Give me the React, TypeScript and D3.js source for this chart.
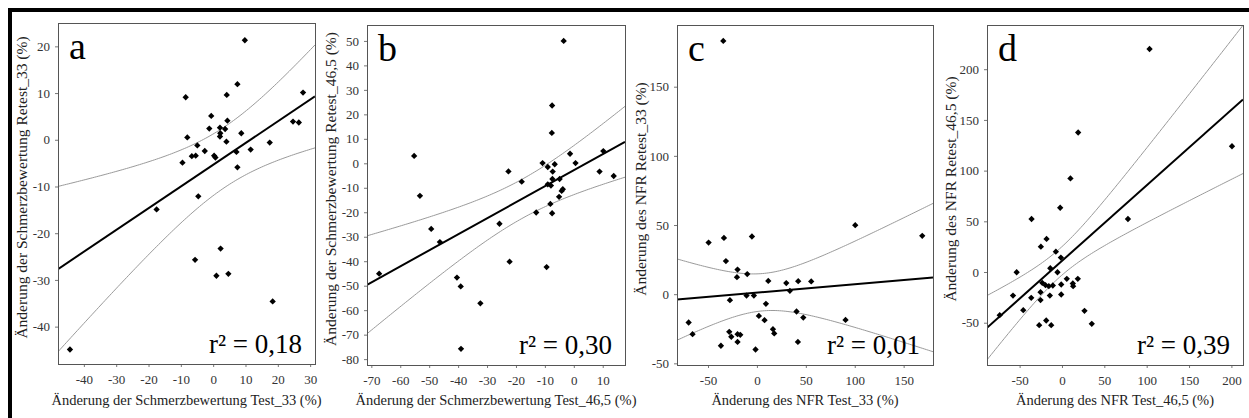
import { useEffect, useRef } from "react"
import * as d3 from "d3"

// panel text
const panelLetters = ["a", "b", "c", "d"]
const r2Labels = ["r² = 0,18", "r² = 0,30", "r² = 0,01", "r² = 0,39"]
const xTitles = [
  "Änderung der Schmerzbewertung Test_33 (%)",
  "Änderung der Schmerzbewertung Test_46,5 (%)",
  "Änderung des NFR Test_33 (%)",
  "Änderung des NFR Test_46,5 (%)",
]
const yTitles = [
  "Änderung der Schmerzbewertung Retest_33 (%)",
  "Änderung der Schmerzbewertung Retest_46,5 (%)",
  "Änderung des NFR Retest_33 (%)",
  "Änderung des NFR Retest_46,5 (%)",
]

// axis ranges and ticks
const xDomains = [[-48, 31.5], [-71.5, 17.7], [-81.7, 180], [-88.5, 213.7]]
const yDomains = [[-48, 25], [-82.4, 56.5], [-51.2, 194.6], [-91.7, 243.6]]
const xTicks = [
  [-40, -30, -20, -10, 0, 10, 20, 30],
  [-70, -60, -50, -40, -30, -20, -10, 0, 10],
  [-50, 0, 50, 100, 150],
  [-50, 0, 50, 100, 150, 200],
]
const yTicks = [
  [-40, -30, -20, -10, 0, 10, 20],
  [-80, -70, -60, -50, -40, -30, -20, -10, 0, 10, 20, 30, 40, 50],
  [-50, 0, 50, 100, 150],
  [-50, 0, 50, 100, 150, 200],
]

// regression line: [intercept, slope]
const fitLines = [[-5.36, 0.465], [-2.8, 0.655], [1.07, 0.0608], [11, 0.745]]
// 95% band: [x at narrowest, half width there, widening factor]
const bands = [[3.6, 6.5, 0.319], [-17.7, 8, 0.3407], [5.9, 13.5, 0.298], [-2.7, 14, 0.3315]]

// a: Schmerzbewertung 33
const schmerz33Test = [9.8, 7.5, 27.8, -8.5, 4.2, -0.6, -1.2, 2.1, 3.7, 4.4, 2.2, 2.1, -8.0, 4.1, 8.7, 24.7, 26.5, 17.5, 11.6, 7.2, -4.9, -2.6, -6.6, -5.4, 0.3, 0.7, -9.5, 7.5, -4.6, -17.5, 2.3, -5.6, 1.0, 4.7, 18.4, -44.3]
const schmerz33Retest = [21.3, 11.9, 10.1, 9.1, 9.6, 5.1, 2.4, 2.6, 2.3, 4.1, 1.4, 0.7, 0.5, -0.4, 1.4, 3.9, 3.7, -0.6, -2.1, -2.6, -1.2, -2.4, -3.5, -3.4, -3.4, -3.8, -4.9, -5.9, -12.1, -14.9, -23.3, -25.7, -29.1, -28.7, -34.6, -44.9]

// b: Schmerzbewertung 46,5
const schmerz465Test = [-3.5, -7.5, -7.6, -55.2, -53.2, -49.3, -46.3, -67.3, -40.4, -39.1, -32.3, -39.0, -22.6, -18.0, -25.7, -22.2, -13.0, -9.4, -10.8, -9.0, -6.6, -7.3, -7.4, -9.0, -7.9, -4.9, -8.1, -7.5, -5.1, -3.8, -4.2, -1.3, 0.6, 8.9, 10.2, 13.8]
const schmerz465Retest = [50, 23.6, 12.4, 3.0, -13.3, -26.8, -32.2, -45.1, -46.7, -50.3, -57.2, -75.8, -3.3, -7.5, -24.7, -40.2, -20.1, -42.4, 0.1, -1.5, -0.4, -3.4, -6.4, -8.6, -9.1, -6.4, -16.6, -20.4, -13.7, -10.6, -11.3, 3.9, 0.1, -3.4, 5.0, -5.2]

// c: NFR 33
const nfr33Test = [-34.4, 100.5, 169, -49.4, -33.7, -5.1, -31.7, -19.8, -20.4, -9.9, 11.6, 30.0, 42.2, 55.5, 33.7, -10.6, -3.1, -27.6, 9.2, 2.0, 7.8, 40.5, 47.4, 90.6, -69.8, -65.8, -28.3, -26.2, -19.8, -17.0, -19.8, 16.4, 17.7, -36.8, -1.4, 41.9]
const nfr33Retest = [183.1, 49.9, 42.2, 37.3, 40.7, 41.7, 23.9, 17.8, 12.3, 14.5, 9.6, 8.0, 9.4, 9.2, 2.4, -1.0, -1.0, -4.3, -7.0, -15.7, -18.8, -12.5, -16.9, -18.6, -20.5, -28.9, -27.2, -30.8, -28.9, -29.4, -34.5, -25.3, -28.4, -37.3, -40.0, -34.5]

// d: NFR 46,5
const nfr465Test = [103.4, 19.1, 200.7, 10.0, -2.1, -35.9, 77.9, -18.2, -24.9, -7.2, -1.3, -53.5, -13.8, -5.3, 5.7, 18.7, -23.3, -19.4, -15.5, -10.8, -0.9, 12.8, 13.2, -25.3, -14.3, -0.9, -57.8, -36.3, -25.3, -45.7, 26.6, -73.5, -26.9, -18.6, -12.7, 35.2]
const nfr465Retest = [219.9, 137.6, 124.0, 92.3, 63.4, 52.3, 52.3, 32.6, 25.0, 20.1, 14.2, -0.2, 3.7, -0.2, -6.7, -6.7, -10.7, -13.0, -14.0, -13.3, -12.3, -11.3, -14.0, -19.9, -23.2, -22.2, -23.2, -25.5, -27.7, -37.6, -38.3, -42.6, -52.4, -47.8, -52.4, -51.1]

const testValues = [schmerz33Test, schmerz465Test, nfr33Test, nfr465Test]
const retestValues = [schmerz33Retest, schmerz465Retest, nfr33Retest, nfr465Retest]

const WIDTH = 1249
const HEIGHT = 418
const FONT = "Liberation Serif, DejaVu Serif, serif"

// plot frames in pixels
const frames = [
  { l: 58, r: 315, t: 23, b: 364 },
  { l: 367, r: 625, t: 25, b: 365 },
  { l: 677, r: 933, t: 25, b: 365 },
  { l: 987, r: 1243, t: 25, b: 365 },
]

const App = () => {
  const svgRef = useRef<SVGSVGElement>(null)

  useEffect(() => {
    const svg = d3.select(svgRef.current)
    svg.selectAll("*").remove()

    // outer box (only top and left edges visible)
    svg.append("line").attr("x1", 8).attr("x2", WIDTH).attr("y1", 10).attr("y2", 10)
      .attr("stroke", "#000").attr("stroke-width", 4)
    svg.append("line").attr("x1", 10).attr("x2", 10).attr("y1", 8).attr("y2", HEIGHT)
      .attr("stroke", "#000").attr("stroke-width", 4)

    frames.forEach((f, i) => {
      const x = d3.scaleLinear().domain(xDomains[i]).range([f.l, f.r])
      const y = d3.scaleLinear().domain(yDomains[i]).range([f.b, f.t])
      const g = svg.append("g").attr("font-family", FONT)

      const clipId = `clip-${i}`
      g.append("clipPath").attr("id", clipId)
        .append("rect")
        .attr("x", f.l).attr("y", f.t)
        .attr("width", f.r - f.l).attr("height", f.b - f.t)

      // x axis
      const xAxis = g.append("g")
        .attr("transform", `translate(0,${f.b})`)
        .call(d3.axisBottom(x).tickValues(xTicks[i]).tickSize(3).tickPadding(8).tickFormat((d) => String(d)))
      xAxis.attr("font-family", FONT).attr("font-size", 13)
      xAxis.select(".domain").remove()
      xAxis.selectAll("line").attr("stroke", "#777")
      xAxis.selectAll("text").attr("fill", "#333")

      // y axis
      const yAxis = g.append("g")
        .attr("transform", `translate(${f.l},0)`)
        .call(d3.axisLeft(y).tickValues(yTicks[i]).tickSize(3).tickPadding(5).tickFormat((d) => String(d)))
      yAxis.attr("font-family", FONT).attr("font-size", 13)
      yAxis.select(".domain").remove()
      yAxis.selectAll("line").attr("stroke", "#777")
      yAxis.selectAll("text").attr("fill", "#333")

      // confidence band
      const [x0, h0, w] = bands[i]
      const [b0, b1] = fitLines[i]
      const xs = d3.range(xDomains[i][0], xDomains[i][1] + 0.5, (xDomains[i][1] - xDomains[i][0]) / 120)
      const half = (v: number) => Math.sqrt(h0 * h0 + w * w * (v - x0) * (v - x0))
      const fit = (v: number) => b0 + b1 * v
      const plotArea = g.append("g").attr("clip-path", `url(#${clipId})`)

      const upper = d3.line<number>().x((v) => x(v)).y((v) => y(fit(v) + half(v)))
      const lower = d3.line<number>().x((v) => x(v)).y((v) => y(fit(v) - half(v)))
      plotArea.append("path").datum(xs).attr("d", upper)
        .attr("fill", "none").attr("stroke", "#9a9a9a").attr("stroke-width", 1)
      plotArea.append("path").datum(xs).attr("d", lower)
        .attr("fill", "none").attr("stroke", "#9a9a9a").attr("stroke-width", 1)

      // regression line
      plotArea.append("line")
        .attr("x1", x(xDomains[i][0])).attr("y1", y(fit(xDomains[i][0])))
        .attr("x2", x(xDomains[i][1])).attr("y2", y(fit(xDomains[i][1])))
        .attr("stroke", "#000").attr("stroke-width", 2)

      // points
      const pts = testValues[i].map((v, k) => [v, retestValues[i][k]])
      const diamond = d3.symbol().type(d3.symbolSquare).size(20)
      plotArea.selectAll(".pt")
        .data(pts)
        .enter()
        .append("path")
        .attr("class", "pt")
        .attr("d", diamond)
        .attr("transform", (d) => `translate(${x(d[0])},${y(d[1])}) rotate(45)`)
        .attr("fill", "#000")

      // frame
      g.append("rect")
        .attr("x", f.l + 0.5).attr("y", f.t + 0.5)
        .attr("width", f.r - f.l).attr("height", f.b - f.t)
        .attr("fill", "none").attr("stroke", "#555").attr("stroke-width", 1)

      // panel letter
      g.append("text")
        .attr("x", f.l + 11).attr("y", f.t + 36)
        .attr("font-size", 38)
        .text(panelLetters[i])

      // r squared
      g.append("text")
        .attr("x", f.r - 13).attr("y", f.b - 11)
        .attr("text-anchor", "end")
        .attr("font-size", 27)
        .text(r2Labels[i])

      // axis titles
      g.append("text")
        .attr("x", (f.l + f.r) / 2).attr("y", 405)
        .attr("text-anchor", "middle")
        .attr("fill", "#222")
        .attr("font-size", 14.5)
        .text(xTitles[i])

      g.append("text")
        .attr("transform", `translate(${f.l - 36},${(f.t + f.b) / 2 - 6}) rotate(-90)`)
        .attr("text-anchor", "middle")
        .attr("dy", "0.35em")
        .attr("fill", "#222")
        .attr("font-size", 15.5)
        .text(yTitles[i])
    })
  }, [])

  return (
    <div style={{ position: "fixed", left: 0, top: 0, background: "#fff" }}>
      <svg ref={svgRef} width={WIDTH} height={HEIGHT}></svg>
    </div>
  )
}

export default App
